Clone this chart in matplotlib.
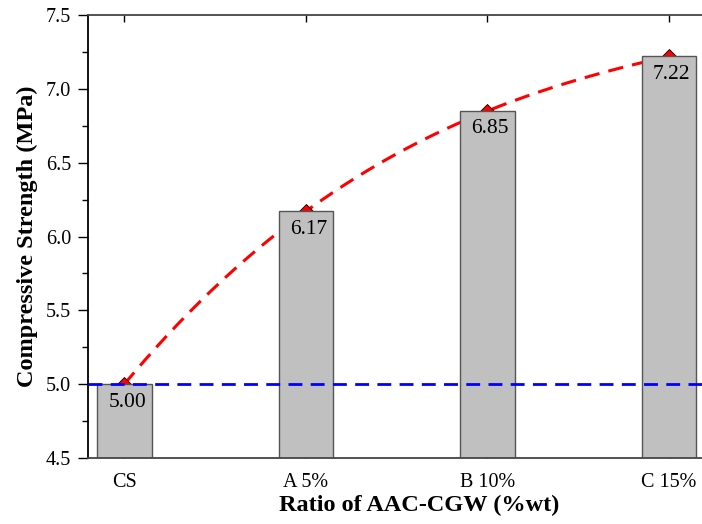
import numpy as np
import matplotlib as mpl
import matplotlib.pyplot as plt
from matplotlib.ticker import MultipleLocator

mpl.use('Agg')

# data
categories = ['CS', 'A 5%', 'B 10%', 'C 15%']
strength = [5.00, 6.17, 6.85, 7.22]
reference_level = 5.0

plt.rcParams['font.family'] = ['Liberation Serif', 'DejaVu Serif']

fig = plt.figure(figsize=(7.02, 5.24), dpi=100)
# the plot area runs past the right edge of the figure, like in the original
ax = fig.add_axes([88 / 702, 66 / 524, (750 - 88) / 702, 443 / 524])

x = np.arange(len(categories))

# smooth trend curve through the bar tops (cubic through the 4 points)
coef = np.polyfit(x, strength, 3)
xs = np.linspace(x[0], x[-1], 200)
ax.plot(xs, np.polyval(coef, xs), color='red', linestyle=(0, (5, 3)), lw=2.2, zorder=1)
ax.plot(x, strength, linestyle='none', marker='D', ms=7, mfc='red', mec='black', mew=0.6, zorder=1)

# bars drawn on top of the curve
ax.bar(x, strength, width=0.30, color='#c0c0c0', edgecolor='#555555', lw=1, zorder=2)

# reference line
ax.axhline(reference_level, color='blue', linestyle=(0, (5, 3)), lw=2, zorder=3)

# value labels inside bars
for xi, v in zip(x, strength):
    ax.annotate(f'{v:.2f}', (xi, v), xytext=(2, -6), textcoords='offset points',
                ha='center', va='top', fontsize=15.5, zorder=4)

ax.set_xlim(-0.2, 3.447)
ax.set_ylim(4.5, 7.5)
ax.set_xticks(x)
ax.set_xticklabels(categories)
ax.yaxis.set_major_locator(MultipleLocator(0.5))
ax.yaxis.set_minor_locator(MultipleLocator(0.25))
ax.yaxis.set_major_formatter(mpl.ticker.FormatStrFormatter('%.1f'))

ax.tick_params(axis='y', which='major', direction='out', length=7, width=1, labelsize=14.5, pad=5)
ax.tick_params(axis='y', which='minor', direction='out', length=4, width=1)
ax.tick_params(axis='x', which='major', direction='in', length=5, width=1, labelsize=14.5, pad=11,
               top=True)

for side in ['top', 'bottom', 'left']:
    ax.spines[side].set_color('#444444')
    ax.spines[side].set_linewidth(1.3)
ax.spines['left'].set_color('black')
ax.spines['right'].set_visible(False)

ax.set_ylabel('Compressive Strength (MPa)', fontsize=17.5, fontweight='bold', labelpad=6)
ax.set_xlabel('Ratio of AAC-CGW (%wt)', fontsize=17.5, fontweight='bold', labelpad=2)

fig.savefig('out.png', dpi=100)
